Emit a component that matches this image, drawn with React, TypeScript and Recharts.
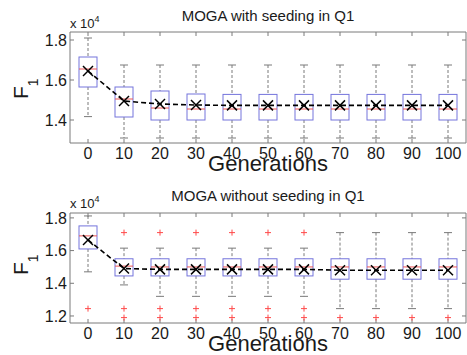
import { ComposedChart, Bar, Line, Scatter, XAxis, YAxis } from 'recharts';

const generations = ['0', '10', '20', '30', '40', '50', '60', '70', '80', '90', '100'];

// MOGA with seeding in Q1 (values x 10^4)
const seededLow = [1.417, 1.31, 1.31, 1.31, 1.31, 1.31, 1.31, 1.31, 1.31, 1.31, 1.31];
const seededQ1 = [1.565, 1.415, 1.4, 1.4, 1.4, 1.4, 1.4, 1.4, 1.4, 1.4, 1.4];
const seededMedian = [1.655, 1.505, 1.46, 1.455, 1.455, 1.455, 1.455, 1.455, 1.455, 1.455, 1.455];
const seededQ3 = [1.715, 1.565, 1.545, 1.53, 1.528, 1.528, 1.528, 1.528, 1.528, 1.528, 1.528];
const seededHigh = [1.81, 1.675, 1.675, 1.675, 1.675, 1.675, 1.675, 1.675, 1.675, 1.675, 1.675];
const seededMean = [1.645, 1.495, 1.48, 1.475, 1.473, 1.473, 1.473, 1.473, 1.473, 1.473, 1.473];

// MOGA without seeding in Q1
const plainLow = [1.47, 1.39, 1.32, 1.32, 1.32, 1.32, 1.32, 1.245, 1.245, 1.245, 1.245];
const plainQ1 = [1.61, 1.445, 1.445, 1.445, 1.445, 1.445, 1.445, 1.425, 1.425, 1.425, 1.425];
const plainMedian = [1.69, 1.505, 1.5, 1.5, 1.5, 1.5, 1.5, 1.5, 1.5, 1.5, 1.5];
const plainQ3 = [1.751, 1.55, 1.55, 1.55, 1.55, 1.55, 1.55, 1.55, 1.55, 1.55, 1.55];
const plainHigh = [1.812, 1.615, 1.615, 1.615, 1.615, 1.615, 1.615, 1.71, 1.71, 1.71, 1.71];
const plainMean = [1.665, 1.49, 1.485, 1.485, 1.485, 1.485, 1.485, 1.48, 1.48, 1.48, 1.48];
const plainOutHigh = [null, 1.71, 1.71, 1.71, 1.71, 1.71, 1.71, null, null, null, null];
const plainOutMid = [1.245, 1.245, 1.245, 1.245, 1.245, 1.245, 1.245, null, null, null, null];
const plainOutLow = [null, 1.19, 1.19, 1.19, 1.19, 1.19, 1.19, 1.19, 1.19, 1.19, 1.19];

const seededTicks = [1.4, 1.6, 1.8];
const plainTicks = [1.2, 1.4, 1.6, 1.8];

const none: (number | null)[] = generations.map(() => null);

function buildRows(
  lo: number[], q1: number[], med: number[], q3: number[], hi: number[], mean: number[],
  o1: (number | null)[], o2: (number | null)[], o3: (number | null)[],
) {
  return generations.map((gen, i) => ({
    gen,
    lo: lo[i], q1: q1[i], med: med[i], q3: q3[i], hi: hi[i],
    range: [lo[i], hi[i]],
    mean: mean[i],
    o1: o1[i], o2: o2[i], o3: o3[i],
  }));
}

const seededRows = buildRows(seededLow, seededQ1, seededMedian, seededQ3, seededHigh, seededMean, none, none, none);
const plainRows = buildRows(plainLow, plainQ1, plainMedian, plainQ3, plainHigh, plainMean, plainOutHigh, plainOutMid, plainOutLow);

const AXIS = '#7a7a7a';
const TEXT = '#1a1a1a';

function BoxShape(props: any) {
  const { x, y, width, height, payload } = props;
  if (!payload) return null;
  const top = Math.min(y, y + height);
  const h = Math.abs(height);
  const { lo, hi, q1, med, q3 } = payload;
  const py = (v: number) => top + ((hi - v) / (hi - lo)) * h;
  const cx = x + width / 2;
  const cap = 4;
  return (
    <g>
      <line x1={cx} x2={cx} y1={py(hi)} y2={py(q3)} stroke={AXIS} strokeDasharray="3 2" />
      <line x1={cx} x2={cx} y1={py(q1)} y2={py(lo)} stroke={AXIS} strokeDasharray="3 2" />
      <line x1={cx - cap} x2={cx + cap} y1={py(hi)} y2={py(hi)} stroke={AXIS} />
      <line x1={cx - cap} x2={cx + cap} y1={py(lo)} y2={py(lo)} stroke={AXIS} />
      <rect x={x} y={py(q3)} width={width} height={py(q1) - py(q3)} fill="none" stroke="#7474dc" />
      <line x1={x} x2={x + width} y1={py(med)} y2={py(med)} stroke="#ee5555" />
    </g>
  );
}

function MeanMark(props: any) {
  const { cx, cy, index } = props;
  if (!Number.isFinite(cx) || !Number.isFinite(cy)) return <g key={index} />;
  const s = 5;
  return (
    <g key={index}>
      <line x1={cx - s} x2={cx + s} y1={cy - s} y2={cy + s} stroke="#000" strokeWidth={1.5} />
      <line x1={cx - s} x2={cx + s} y1={cy + s} y2={cy - s} stroke="#000" strokeWidth={1.5} />
    </g>
  );
}

function plusShape(key: string) {
  return (props: any) => {
    const { cx, cy, payload } = props;
    if (!payload || payload[key] == null || !Number.isFinite(cy)) return <g />;
    return (
      <g>
        <line x1={cx - 3} x2={cx + 3} y1={cy} y2={cy} stroke="#ff4848" />
        <line x1={cx} x2={cx} y1={cy - 3} y2={cy + 3} stroke="#ff4848" />
      </g>
    );
  };
}

interface PanelProps {
  rows: any[];
  domain: [number, number];
  ticks: number[];
  height: number;
  marginTop: number;
  title: string;
  titleY: number;
  scaleY: number;
  labelY: number;
  xLabelY: number;
  outliers: boolean;
}

function Panel({ rows, domain, ticks, height, marginTop, title, titleY, scaleY, labelY, xLabelY, outliers }: PanelProps) {
  return (
    <div style={{ position: 'relative', width: 467, height }}>
      <ComposedChart
        width={467}
        height={height}
        data={rows}
        margin={{ top: marginTop, right: 0, bottom: 10, left: 0 }}
        barCategoryGap={0}
      >
        <XAxis
          dataKey="gen"
          interval={0}
          height={22}
          tickSize={-4}
          tickMargin={9}
          stroke={AXIS}
          tick={{ fill: TEXT, fontSize: 16 }}
        />
        <XAxis
          xAxisId="top"
          orientation="top"
          dataKey="gen"
          interval={0}
          height={1}
          tickSize={-4}
          tickFormatter={() => ''}
          stroke={AXIS}
        />
        <YAxis
          type="number"
          domain={domain}
          ticks={ticks}
          allowDataOverflow
          width={70}
          tickSize={-4}
          tickMargin={7}
          stroke={AXIS}
          tick={{ fill: TEXT, fontSize: 16 }}
          tickFormatter={(v: number) => v.toFixed(1)}
        />
        <YAxis
          yAxisId="right"
          orientation="right"
          type="number"
          domain={domain}
          ticks={ticks}
          allowDataOverflow
          width={1}
          tickSize={-4}
          tickFormatter={() => ''}
          stroke={AXIS}
        />
        <Bar dataKey="range" barSize={18} shape={BoxShape} isAnimationActive={false} />
        <Line
          dataKey="mean"
          type="linear"
          stroke="#000"
          strokeWidth={1.6}
          strokeDasharray="5 3"
          dot={(p: any) => <MeanMark key={p.index} {...p} />}
          activeDot={false}
          isAnimationActive={false}
        />
        {outliers && <Scatter dataKey="o1" shape={plusShape('o1')} isAnimationActive={false} />}
        {outliers && <Scatter dataKey="o2" shape={plusShape('o2')} isAnimationActive={false} />}
        {outliers && <Scatter dataKey="o3" shape={plusShape('o3')} isAnimationActive={false} />}
      </ComposedChart>
      <svg
        width={467}
        height={height}
        style={{ position: 'absolute', left: 0, top: 0, pointerEvents: 'none', overflow: 'visible' }}
      >
        <text x={268} y={titleY} textAnchor="middle" fontSize={15} fill={TEXT}>{title}</text>
        <text x={70} y={scaleY} fontSize={13} fill={TEXT}>
          x 10<tspan fontSize={9} dy={-6}>4</tspan>
        </text>
        <text transform={`translate(28, ${labelY}) rotate(-90)`} fontSize={21} fill={TEXT}>
          F<tspan fontSize={14} dy={10}>1</tspan>
        </text>
        <text x={268} y={xLabelY} textAnchor="middle" fontSize={22} fill={TEXT}>Generations</text>
      </svg>
    </div>
  );
}

export default function App() {
  return (
    <div
      style={{
        position: 'absolute',
        left: 0,
        top: 0,
        width: 467,
        height: 355,
        background: '#fff',
        fontFamily: '"Liberation Sans", Arial, sans-serif',
        overflow: 'hidden',
      }}
    >
      <Panel
        rows={seededRows}
        domain={[1.285, 1.84]}
        ticks={seededTicks}
        height={175}
        marginTop={31}
        title="MOGA with seeding in Q1"
        titleY={21}
        scaleY={28}
        labelY={99}
        xLabelY={171}
        outliers={false}
      />
      <Panel
        rows={plainRows}
        domain={[1.157, 1.83]}
        ticks={plainTicks}
        height={180}
        marginTop={37}
        title="MOGA without seeding in Q1"
        titleY={26}
        scaleY={33}
        labelY={100}
        xLabelY={176}
        outliers
      />
    </div>
  );
}
